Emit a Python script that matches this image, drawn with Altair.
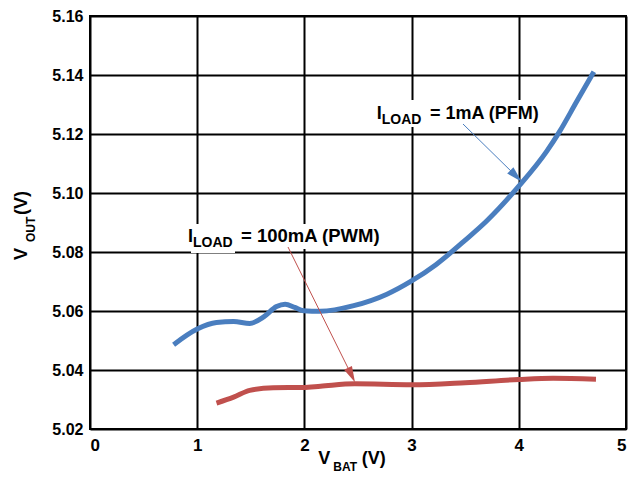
import altair as alt
import pandas as pd

# ---- data ----
x_ticks = [0, 1, 2, 3, 4, 5]
y_ticks = [5.02, 5.04, 5.06, 5.08, 5.10, 5.12, 5.14, 5.16]

pfm_vbat = [0.78, 1.00, 1.18, 1.34, 1.49, 1.62, 1.74, 1.82, 1.91, 1.99, 2.15,
            2.46, 2.77, 3.00, 3.23, 3.49, 3.70, 4.00, 4.26, 4.38, 4.54, 4.70]
pfm_vout = [5.0486, 5.0539, 5.0561, 5.0564, 5.0558, 5.0580, 5.0615, 5.0623,
            5.0612, 5.0601, 5.0599, 5.0618, 5.0657, 5.0702, 5.0758, 5.0837,
            5.0905, 5.1023, 5.1141, 5.1208, 5.1310, 5.1411]

pwm_vbat = [1.18, 1.34, 1.49, 1.71, 1.99, 2.15, 2.47, 3.00, 3.50, 4.00, 4.32, 4.72]
pwm_vout = [5.0288, 5.0308, 5.0331, 5.0340, 5.0341, 5.0345, 5.0353, 5.0350,
            5.0357, 5.0368, 5.0372, 5.0369]

series_names = ["PFM 1mA", "PWM 100mA"]
series_colors = ["#4a7ebf", "#c0504d"]

df = pd.DataFrame({
    "vbat": pfm_vbat + pwm_vbat,
    "vout": pfm_vout + pwm_vout,
    "series": [series_names[0]] * len(pfm_vbat) + [series_names[1]] * len(pwm_vbat),
})

FONT = "Liberation Sans"
W, H = 536, 413

lines = alt.Chart(df).mark_line(strokeWidth=5, interpolate="monotone", strokeCap="butt").encode(
    x=alt.X("vbat:Q", scale=alt.Scale(domain=[0, 5], nice=False),
            axis=alt.Axis(values=x_ticks, title=None, format="d")),
    y=alt.Y("vout:Q", scale=alt.Scale(domain=[5.02, 5.16], nice=False, zero=False),
            axis=alt.Axis(values=y_ticks, title=None, format=".2f")),
    color=alt.Color("series:N", scale=alt.Scale(domain=series_names, range=series_colors), legend=None),
    detail="series:N",
)

one = alt.Data(values=[{}])


def txt(s, x, y, size, angle=0, color="black"):
    return alt.Chart(one).mark_text(
        text=s, font=FONT, fontWeight="bold", fontSize=size, align="left",
        baseline="alphabetic", angle=angle, color=color
    ).encode(x=alt.value(x), y=alt.value(y))


def box(x1, x2, y1, y2):
    return alt.Chart(one).mark_rect(color="white").encode(
        x=alt.value(x1), x2=alt.value(x2), y=alt.value(y1), y2=alt.value(y2))


def arrow(x1, y1, x2, y2, ang, color):
    r = alt.Chart(one).mark_rule(color=color, strokeWidth=1).encode(
        x=alt.value(x1), y=alt.value(y1), x2=alt.value(x2), y2=alt.value(y2))
    h = alt.Chart(one).mark_point(
        shape="M0,-1L0.55,1L-0.55,1Z", filled=True, size=256, angle=ang,
        color=color, opacity=1, strokeWidth=0
    ).encode(x=alt.value(x2), y=alt.value(y2))
    return r + h


layers = [
    box(285, 452, 84, 111),
    box(96, 292, 208, 233),
    box(101, 145, 223, 237),
    lines,
    arrow(373, 108, 426, 160, 134.7, series_colors[0]),
    arrow(198, 231, 261.5, 359, 154, series_colors[1]),
    # annotation 1mA
    txt("I", 286.7, 103.3, 18),
    txt("LOAD", 291.7, 108, 14),
    txt("= 1mA (PFM)", 340, 103.3, 18),
    # annotation 100mA
    txt("I", 98, 226, 18),
    txt("LOAD", 103, 230.7, 14),
    txt("= 100mA (PWM)", 151, 226, 18.5),
    # x title
    txt("V", 228.3, 448, 18),
    txt("BAT", 243.3, 455, 12),
    txt("(V)", 271.7, 448, 18),
    # y title
    txt("V", -63, 244, 18, angle=270),
    txt("OUT", -55, 226, 12, angle=270),
    txt("(V)", -63, 199, 18, angle=270),
]

chart = alt.layer(*layers).properties(
    width=W, height=H,
    autosize=alt.AutoSizeParams(type="none"),
    padding={"left": 82, "top": 8, "right": 8, "bottom": 45},
).configure_view(
    stroke="black", strokeWidth=2
).configure_axis(
    grid=True, gridColor="black", gridWidth=2, gridOpacity=1,
    domain=False, ticks=False,
    labelFont=FONT, labelFontWeight="bold", labelFontSize=17, labelColor="black",
    labelPadding=8,
).configure_axisY(labelPadding=7, labelFontSize=16)

chart.save("out.html", embed_options={"renderer": "svg", "actions": False})
